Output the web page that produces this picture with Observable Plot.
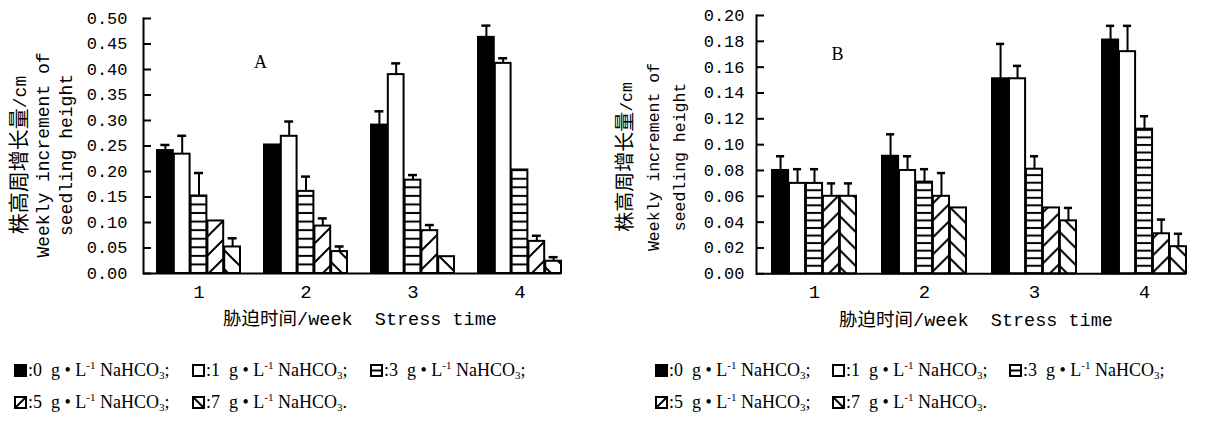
<!DOCTYPE html>
<html><head><meta charset="utf-8">
<script src="https://cdn.jsdelivr.net/npm/d3@7"></script>
<script src="https://cdn.jsdelivr.net/npm/@observablehq/plot@0.6"></script>
<style>
body{margin:0;background:#fff;}
#root{position:relative;width:1217px;height:421px;overflow:hidden;background:#fff;color:#000;}
#root svg.plot{position:absolute;top:0;}
.abs{position:absolute;white-space:nowrap;line-height:1;}
.mono{font-family:"Liberation Mono",monospace;}
.cjk{font-family:"Noto Sans CJK SC",sans-serif;}
.ylab{transform:translate(-50%,-50%) rotate(-90deg);text-align:center;}
.ylab div{white-space:nowrap;}
.legend{font-family:"Liberation Serif",serif;font-size:18px;}
.legend .ln{height:32px;line-height:32px;white-space:nowrap;}
.legend .it{display:inline-block;}
.legend svg{vertical-align:-1px;margin-right:1px;}
.legend sup,.legend sub{font-size:11px;line-height:0;}
.legend sup{vertical-align:7px;}
.legend sub{vertical-align:-3px;}
</style></head><body><div id="root"></div>
<script>
// ---------- data ----------
const weeks = ["1", "2", "3", "4"];                 // stress time (week)
const concs = ["0", "1", "3", "5", "7"];            // NaHCO3, g·L-1

// Panel A: weekly increment of seedling height (cm), mean and error, per concentration over weeks 1..4
const a0  = [0.241, 0.252, 0.291, 0.463], a0e = [0.011, 0.000, 0.027, 0.023];
const a1  = [0.234, 0.269, 0.390, 0.412], a1e = [0.036, 0.029, 0.022, 0.010];
const a3  = [0.152, 0.161, 0.183, 0.203], a3e = [0.045, 0.029, 0.010, 0.000];
const a5  = [0.103, 0.093, 0.084, 0.063], a5e = [0.000, 0.015, 0.011, 0.011];
const a7  = [0.052, 0.043, 0.033, 0.024], a7e = [0.017, 0.010, 0.000, 0.008];

// Panel B
const b0  = [0.080, 0.091, 0.151, 0.181], b0e = [0.011, 0.017, 0.027, 0.011];
const b1  = [0.070, 0.080, 0.151, 0.172], b1e = [0.011, 0.011, 0.010, 0.020];
const b3  = [0.070, 0.071, 0.081, 0.112], b3e = [0.011, 0.010, 0.010, 0.010];
const b5  = [0.060, 0.060, 0.051, 0.031], b5e = [0.010, 0.018, 0.000, 0.011];
const b7  = [0.060, 0.051, 0.041, 0.021], b7e = [0.010, 0.000, 0.010, 0.010];

const ticksA = [0, 0.05, 0.10, 0.15, 0.20, 0.25, 0.30, 0.35, 0.40, 0.45, 0.50];
const ticksB = [0, 0.02, 0.04, 0.06, 0.08, 0.10, 0.12, 0.14, 0.16, 0.18, 0.20];

const yLabel = ["株高周增长量", "/cm", "Weekly increment of", "seedling height"];
const xLabel = ["胁迫时间", "/week  Stress time"];

function rowsOf(means, errs) {
  return concs.flatMap((c, i) => weeks.map((w, j) => ({week: w, conc: c, v: means[i][j], e: errs[i][j]})));
}
const rowsA = rowsOf([a0, a1, a3, a5, a7], [a0e, a1e, a3e, a5e, a7e]);
const rowsB = rowsOf([b0, b1, b3, b5, b7], [b0e, b1e, b3e, b5e, b7e]);

// ---------- layout ----------
const H = 340;
const cfgA = {id: "A", left: 0, W: 608, ml: 143, end: 561, mt: 18, base: 273, pi: 0.22, po: 0.05,
  yMax: 0.5, ticks: ticksA, tickPad: 16, hP: 8.57, dP: 19, cap: 10, letter: [260, 62],
  yl: {x: 42, y: 155, gap: 23, cjk: 21, lat: 18}, xl: {x: 360, y: 319}, legendX: 14, itemW: 178};
const cfgB = {id: "B", left: 608, W: 609, ml: 148, end: 578, mt: 15, base: 273.3, pi: 0.233, po: 0.06,
  yMax: 0.2, ticks: ticksB, tickPad: 12, hP: 7.55, dP: 17, cap: 9, letter: [229, 54],
  yl: {x: 653 - 608, y: 157, gap: 26.5, cjk: 20, lat: 16.5}, xl: {x: 976 - 608, y: 320}, legendX: 655 - 608, itemW: 177};

const root = document.getElementById("root");

function panel(cfg, rows) {
  const mr = cfg.W - cfg.end, mb = H - cfg.base;
  const n = weeks.length;
  const step = (cfg.end - cfg.ml) / (n - cfg.pi + 2 * cfg.po);
  const bandwidth = step * (1 - cfg.pi);
  const bw = bandwidth / concs.length;
  const frameW = cfg.end - cfg.ml;
  const fills = ["black", "white", `url(#${cfg.id}-h)`, `url(#${cfg.id}-d)`, `url(#${cfg.id}-b)`];
  const marks = [];
  concs.forEach((c, i) => {
    marks.push(Plot.barY(rows.filter(r => r.conc === c), {
      x: "week", y: "v", fill: fills[i], stroke: "black", strokeWidth: 2,
      insetLeft: i * bw, insetRight: (concs.length - 1 - i) * bw
    }));
  });
  concs.forEach((c, i) => {
    const d = rows.filter(r => r.conc === c && r.e > 0);
    const dx = (i - (concs.length - 1) / 2) * bw;
    const side = (bw - cfg.cap) / 2;
    marks.push(Plot.ruleX(d, {x: "week", y1: "v", y2: r => r.v + r.e, dx, stroke: "black", strokeWidth: 2}));
    marks.push(Plot.tickY(d, {x: "week", y: r => r.v + r.e, stroke: "black", strokeWidth: 2.5,
      insetLeft: i * bw + side, insetRight: (concs.length - 1 - i) * bw + side}));
  });
  marks.push(
    Plot.ruleY([0], {stroke: "black", strokeWidth: 2}),
    Plot.frame({anchor: "left", stroke: "black", strokeWidth: 2}),
    Plot.tickY(cfg.ticks, {y: d => d, stroke: "black", strokeWidth: 2, insetRight: frameW - 8}),
    Plot.axisY({ticks: cfg.ticks, tickSize: 0, tickPadding: cfg.tickPad, tickFormat: d => d.toFixed(2),
      label: null, fontSize: 17, fontFamily: "Liberation Mono"}),
    Plot.axisX({tickSize: 0, tickPadding: 11, label: null, fontSize: 19, fontFamily: "Liberation Mono"}),
    Plot.text([cfg.id], {frameAnchor: "top-left", dx: cfg.letter[0] - cfg.ml, dy: cfg.letter[1] - cfg.mt,
      textAnchor: "middle", lineAnchor: "middle", fontSize: 18, fontFamily: "Liberation Serif"})
  );
  const svg = Plot.plot({
    width: cfg.W, height: H, marginLeft: cfg.ml, marginRight: mr, marginTop: cfg.mt, marginBottom: mb,
    x: {type: "band", domain: weeks, paddingInner: cfg.pi, paddingOuter: cfg.po, align: 1},
    y: {domain: [0, cfg.yMax]},
    style: {background: "white", color: "black", fontFamily: "Liberation Mono", overflow: "visible"},
    marks
  });
  svg.classList.add("plot");
  svg.style.left = cfg.left + "px";
  // hatch patterns
  const defs = d3.select(svg).insert("defs", ":first-child");
  const P = cfg.hP;
  const ph = defs.append("pattern").attr("id", cfg.id + "-h").attr("patternUnits", "userSpaceOnUse")
    .attr("width", 10).attr("height", P).attr("y", cfg.base);
  ph.append("rect").attr("width", 10).attr("height", P).attr("fill", "white");
  ph.append("rect").attr("y", 0).attr("width", 10).attr("height", 1).attr("fill", "black");
  ph.append("rect").attr("y", P - 1).attr("width", 10).attr("height", 1).attr("fill", "black");
  const D = cfg.dP;
  const pd = defs.append("pattern").attr("id", cfg.id + "-d").attr("patternUnits", "userSpaceOnUse")
    .attr("width", D).attr("height", D).attr("y", cfg.base);
  pd.append("rect").attr("width", D).attr("height", D).attr("fill", "white");
  pd.append("path").attr("d", `M-2,2L2,-2M0,${D}L${D},0M${D - 2},${D + 2}L${D + 2},${D - 2}`)
    .attr("stroke", "black").attr("stroke-width", 2);
  const pb = defs.append("pattern").attr("id", cfg.id + "-b").attr("patternUnits", "userSpaceOnUse")
    .attr("width", D).attr("height", D).attr("y", cfg.base);
  pb.append("rect").attr("width", D).attr("height", D).attr("fill", "white");
  pb.append("path").attr("d", `M-2,${D - 2}L2,${D + 2}M0,0L${D},${D}M${D - 2},-2L${D + 2},2`)
    .attr("stroke", "black").attr("stroke-width", 2);
  root.appendChild(svg);

  // y-axis title (three lines, rotated)
  const yl = document.createElement("div");
  yl.className = "abs ylab";
  yl.style.left = (cfg.left + cfg.yl.x) + "px";
  yl.style.top = cfg.yl.y + "px";
  yl.style.lineHeight = cfg.yl.gap + "px";
  yl.innerHTML =
    `<div><span class="cjk" style="font-size:${cfg.yl.cjk}px">${yLabel[0]}</span><span class="mono" style="font-size:${cfg.yl.lat}px">${yLabel[1]}</span></div>` +
    `<div class="mono" style="font-size:${cfg.yl.lat}px">${yLabel[2]}</div>` +
    `<div class="mono" style="font-size:${cfg.yl.lat}px">${yLabel[3]}</div>`;
  root.appendChild(yl);

  // x-axis title
  const xl = document.createElement("div");
  xl.className = "abs";
  xl.style.left = (cfg.left + cfg.xl.x) + "px";
  xl.style.top = cfg.xl.y + "px";
  xl.style.transform = "translate(-50%,-50%)";
  xl.innerHTML = `<span class="cjk" style="font-size:18.5px">${xLabel[0]}</span><span class="mono" style="font-size:18.5px;white-space:pre">${xLabel[1]}</span>`;
  root.appendChild(xl);

  // legend
  const icon = k => {
    const body = [
      `<rect x="1" y="1" width="11" height="11" fill="black" stroke="black" stroke-width="2"/>`,
      `<rect x="1" y="1" width="11" height="11" fill="white" stroke="black" stroke-width="2"/>`,
      `<rect x="1" y="1" width="11" height="11" fill="white" stroke="black" stroke-width="2"/><path d="M1,6.5H12" stroke="black" stroke-width="2"/>`,
      `<rect x="1" y="1" width="11" height="11" fill="white" stroke="black" stroke-width="2"/><path d="M1,12L12,1" stroke="black" stroke-width="2"/>`,
      `<rect x="1" y="1" width="11" height="11" fill="white" stroke="black" stroke-width="2"/><path d="M1,1L12,12" stroke="black" stroke-width="2"/>`
    ][k];
    return `<svg width="13" height="13" viewBox="0 0 13 13">${body}</svg>`;
  };
  const item = (k, end) => `<span class="it" style="width:${cfg.itemW}px">${icon(k)}:${concs[k]}&nbsp; g • L<sup>-1</sup> NaHCO<sub>3</sub>${end}</span>`;
  const lg = document.createElement("div");
  lg.className = "abs legend";
  lg.style.left = (cfg.left + cfg.legendX) + "px";
  lg.style.top = "354px";
  lg.innerHTML = `<div class="ln">${item(0, ";")}${item(1, ";")}${item(2, ";")}</div><div class="ln">${item(3, ";")}${item(4, ".")}</div>`;
  root.appendChild(lg);
}

panel(cfgA, rowsA);
panel(cfgB, rowsB);
</script></body></html>
